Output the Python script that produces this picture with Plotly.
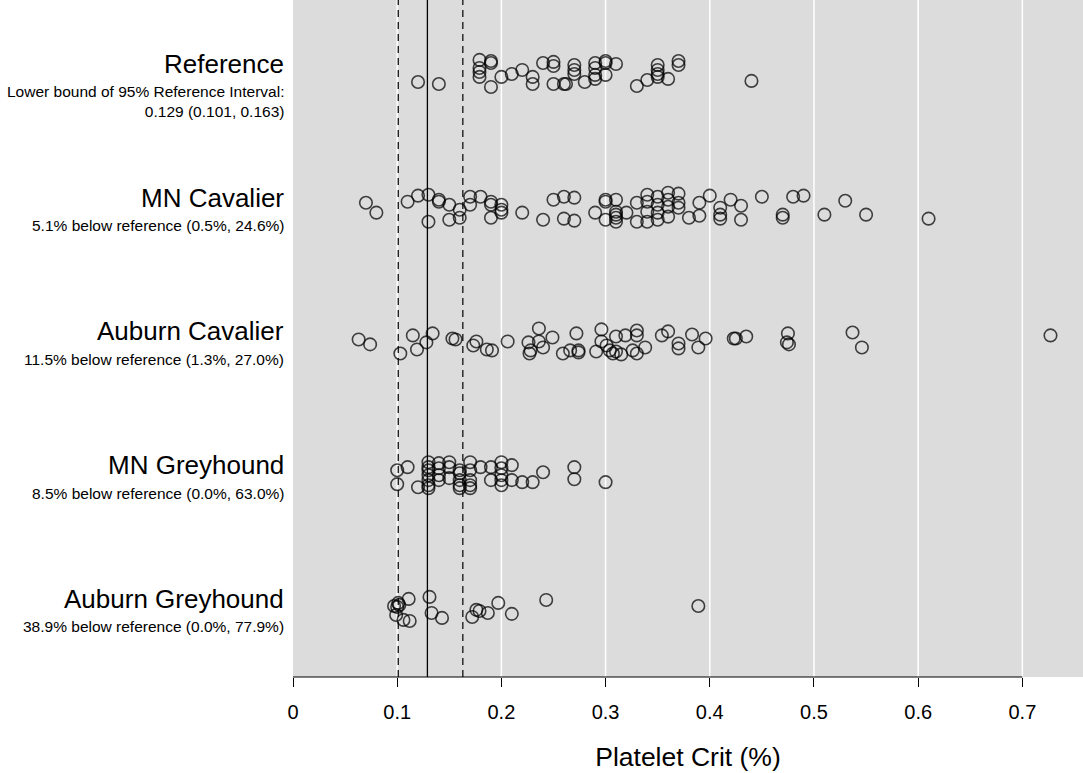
import plotly.graph_objects as go

# ---- data ----
groups = ["Reference", "MN Cavalier", "Auburn Cavalier", "MN Greyhound", "Auburn Greyhound"]
subtitles = [
    "Lower bound of 95% Reference Interval:<br>0.129 (0.101, 0.163)",
    "5.1% below reference (0.5%, 24.6%)",
    "11.5% below reference (1.3%, 27.0%)",
    "8.5% below reference (0.0%, 63.0%)",
    "38.9% below reference (0.0%, 77.9%)",
]
row_pos = [5, 4, 3, 2, 1]

ref_x = [0.120, 0.140, 0.179, 0.190, 0.190, 0.179, 0.179, 0.179, 0.190, 0.200, 0.210, 0.220, 0.230, 0.230,
         0.240, 0.250, 0.250, 0.250, 0.260, 0.262, 0.270, 0.270, 0.270, 0.280, 0.290, 0.290, 0.290, 0.290,
         0.300, 0.300, 0.300, 0.310, 0.330, 0.340, 0.350, 0.350, 0.350, 0.350, 0.360, 0.370, 0.370, 0.440]
ref_j = [-0.06, -0.075, 0.105, 0.097, 0.082, 0.045, 0.015, -0.022, -0.097, -0.022, 0.0, 0.03, -0.022, -0.075,
         0.082, 0.09, 0.06, -0.075, -0.075, -0.075, 0.067, 0.03, 0.0, -0.06, 0.082, 0.045, -0.007, -0.037,
         0.097, 0.082, -0.007, 0.075, -0.09, -0.045, 0.067, 0.03, 0.0, -0.022, -0.037, 0.097, 0.067, -0.052]

mnc_x = [0.070, 0.080, 0.110, 0.120, 0.130, 0.130, 0.140, 0.140, 0.150, 0.150, 0.160, 0.160, 0.170, 0.170,
         0.180, 0.190, 0.190, 0.190, 0.200, 0.200, 0.200, 0.220, 0.240, 0.250, 0.260, 0.260, 0.270, 0.270,
         0.290, 0.300, 0.300, 0.300, 0.310, 0.310, 0.310, 0.310, 0.310, 0.320, 0.330, 0.330, 0.340, 0.340,
         0.340, 0.340, 0.350, 0.350, 0.350, 0.350, 0.360, 0.360, 0.360, 0.360, 0.370, 0.370, 0.370, 0.380,
         0.390, 0.390, 0.400, 0.410, 0.410, 0.410, 0.420, 0.430, 0.430, 0.450, 0.470, 0.470, 0.480, 0.490,
         0.510, 0.530, 0.550, 0.610]
mnc_j = [0.037, -0.037, 0.045, 0.09, 0.097, -0.105, 0.06, 0.045, 0.022, -0.09, -0.015, -0.075, 0.082, 0.022,
         0.082, 0.045, 0.022, -0.075, 0.022, -0.015, -0.037, -0.037, -0.09, 0.06, 0.082, -0.082, 0.075, -0.097,
         -0.037, 0.06, 0.045, -0.09, 0.06, -0.03, -0.052, -0.075, -0.105, -0.037, 0.037, -0.105, 0.097, 0.045,
         -0.03, -0.105, 0.082, 0.022, -0.037, -0.09, 0.112, 0.06, 0.007, -0.067, 0.105, 0.037, 0.0, -0.075,
         0.037, -0.06, 0.09, 0.0, -0.052, -0.082, 0.06, 0.015, -0.09, 0.082, -0.052, -0.075, 0.082, 0.09,
         -0.052, 0.052, -0.052, -0.082]

auc_x = [0.063, 0.074, 0.103, 0.115, 0.119, 0.128, 0.134, 0.153, 0.156, 0.173, 0.176, 0.186, 0.191, 0.206,
         0.226, 0.228, 0.227, 0.236, 0.236, 0.240, 0.249, 0.259, 0.266, 0.272, 0.274, 0.274, 0.291, 0.296,
         0.296, 0.301, 0.304, 0.307, 0.310, 0.310, 0.315, 0.319, 0.326, 0.330, 0.330, 0.330, 0.338, 0.354,
         0.360, 0.370, 0.370, 0.383, 0.389, 0.396, 0.423, 0.425, 0.435, 0.475, 0.474, 0.476, 0.537, 0.546,
         0.727]
auc_j = [0.015, -0.022, -0.09, 0.045, -0.06, -0.007, 0.06, 0.022, 0.015, -0.03, 0.0, -0.06, -0.067, 0.0,
         -0.007, -0.067, -0.09, 0.097, 0.0, -0.045, 0.03, -0.09, -0.067, 0.06, -0.067, -0.082, -0.075, 0.09,
         0.0, -0.03, -0.067, -0.09, -0.075, 0.037, -0.097, 0.045, -0.067, 0.082, 0.045, -0.09, -0.045, 0.045,
         0.075, -0.015, -0.052, 0.052, -0.045, 0.022, 0.022, 0.022, 0.037, 0.06, -0.007, -0.022, 0.067, -0.045,
         0.045]

mng_x = [0.10, 0.10, 0.11, 0.12, 0.13, 0.13, 0.13, 0.13, 0.13, 0.13, 0.13, 0.14, 0.14, 0.14, 0.14,
         0.15, 0.15, 0.15, 0.16, 0.16, 0.16, 0.16, 0.16, 0.17, 0.17, 0.17, 0.17, 0.17, 0.18, 0.19, 0.19,
         0.20, 0.20, 0.20, 0.20, 0.20, 0.21, 0.21, 0.22, 0.23, 0.24, 0.27, 0.27, 0.30]
mng_j = [0.037, -0.067, 0.06, -0.09, 0.097, 0.06, 0.037, 0.0, -0.037, -0.075, -0.097, 0.09, 0.052, 0.0, -0.037,
         0.097, 0.06, -0.022, 0.037, 0.015, -0.037, -0.075, -0.097, 0.097, 0.037, -0.037, -0.075, -0.097, 0.06,
         0.06, -0.037, 0.097, 0.052, 0.0, -0.037, -0.075, 0.075, -0.037, -0.052, -0.052, 0.022, 0.06, -0.03,
         -0.052]

aug_x = [0.097, 0.100, 0.102, 0.101, 0.099, 0.106, 0.112, 0.111, 0.131, 0.133, 0.143, 0.172, 0.176, 0.179,
         0.187, 0.197, 0.210, 0.243, 0.389]
aug_j = [0.022, 0.015, 0.03, 0.045, -0.045, -0.082, -0.09, 0.075, 0.09, -0.03, -0.067, -0.06, -0.007, -0.015,
         -0.03, 0.045, -0.037, 0.067, 0.022]

series_x = [ref_x, mnc_x, auc_x, mng_x, aug_x]
series_j = [ref_j, mnc_j, auc_j, mng_j, aug_j]

ref_lower = 0.129
ref_ci = [0.101, 0.163]
tick_vals = [0, 0.1, 0.2, 0.3, 0.4, 0.5, 0.6, 0.7]
tick_text = ["0", "0.1", "0.2", "0.3", "0.4", "0.5", "0.6", "0.7"]

FONT = "Liberation Sans, Arial, sans-serif"

fig = go.Figure()
for name, pos, xs, js in zip(groups, row_pos, series_x, series_j):
    fig.add_trace(go.Scatter(
        x=xs, y=[pos + j for j in js], mode="markers", name=name,
        marker=dict(symbol="circle-open", size=12.5, color="rgba(0,0,0,0.72)",
                    line=dict(width=1.6, color="rgba(0,0,0,0.72)")),
        showlegend=False, hoverinfo="x",
    ))

shapes = []
for v in tick_vals[1:]:
    shapes.append(dict(type="line", xref="x", yref="paper", x0=v, x1=v, y0=0, y1=1,
                       line=dict(color="white", width=1.5), layer="below"))
shapes.append(dict(type="line", xref="x", yref="paper", x0=ref_lower, x1=ref_lower, y0=0, y1=1,
                   line=dict(color="black", width=1.3)))
for v in ref_ci:
    shapes.append(dict(type="line", xref="x", yref="paper", x0=v, x1=v, y0=0, y1=1,
                       line=dict(color="black", width=1.2, dash="7px,5px")))
shapes.append(dict(type="line", xref="x", yref="paper", x0=0, x1=0.7, y0=0, y1=0,
                   line=dict(color="black", width=1)))

annotations = []
for name, sub, pos in zip(groups, subtitles, row_pos):
    annotations.append(dict(text=name, xref="paper", yref="y", x=-0.0085, y=pos, yshift=10,
                            xanchor="right", yanchor="middle", showarrow=False,
                            font=dict(family=FONT, size=26, color="black")))
    annotations.append(dict(text=sub, xref="paper", yref="y", x=-0.0085, y=pos,
                            yshift=-18 if "<br>" not in sub else -28,
                            xanchor="right", yanchor="middle", align="right", showarrow=False,
                            font=dict(family=FONT, size=15.5, color="black")))

fig.update_layout(
    width=1083, height=773,
    margin=dict(l=293, r=0, t=0, b=96),
    paper_bgcolor="white", plot_bgcolor="#DCDCDC",
    font=dict(family=FONT, color="black"),
    shapes=shapes, annotations=annotations,
    xaxis=dict(range=[0, 0.7582], tickvals=tick_vals, ticktext=tick_text, showgrid=False,
               zeroline=False, showline=False, ticks="outside", ticklen=9, tickwidth=1,
               tickcolor="black", tickfont=dict(size=20, family=FONT), ticklabelstandoff=8,
               title=dict(text="Platelet Crit (%)", font=dict(size=26.5, family=FONT), standoff=25)),
    yaxis=dict(range=[0.491, 5.553], showgrid=False, zeroline=False, showticklabels=False,
               showline=False, ticks=""),
)

fig.write_html("out.html", config={"displayModeBar": False},
               post_script="document.body.style.margin='0';document.body.style.overflow='hidden';")
